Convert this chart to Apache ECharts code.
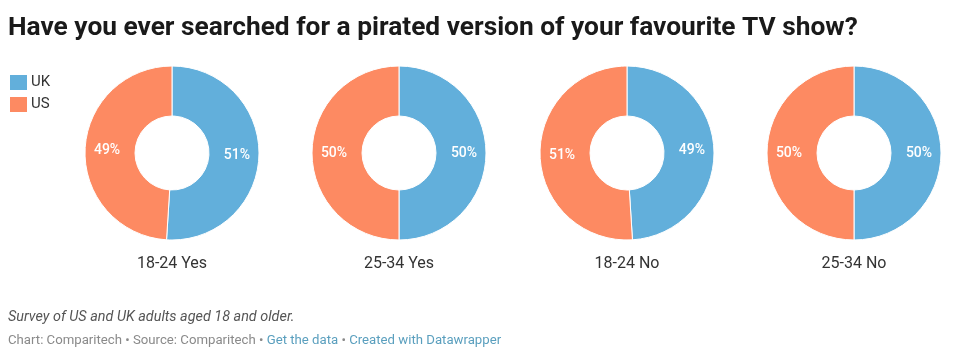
<!DOCTYPE html>
<html><head><meta charset="utf-8">
<script src="https://cdn.jsdelivr.net/npm/echarts@6/dist/echarts.min.js"></script>
<style>html,body{margin:0;padding:0;background:#fff}#c{width:957px;height:359px}</style>
</head><body><div id="c"></div>
<script>
const categories = ["18-24 Yes", "25-34 Yes", "18-24 No", "25-34 No"];
const seriesNames = ["UK", "US"];
const ukValues = [51, 50, 49, 50];
const usValues = [49, 50, 51, 50];
const colors = ["#62afdb", "#fd8a62"];
const centersX = [172, 399, 627, 854];

const chart = echarts.init(document.getElementById('c'));
const series = categories.map((cat, i) => ({
  type: 'pie',
  name: cat,
  center: [centersX[i], 153],
  radius: [37, 87],
  startAngle: 90,
  clockwise: true,
  animation: false,
  itemStyle: { borderColor: '#ffffff', borderWidth: 1 },
  label: {
    show: true, position: 'inside', formatter: '{c}%',
    color: '#ffffff', fontSize: 14, fontWeight: 500, fontFamily: 'Roboto'
  },
  labelLine: { show: false },
  emphasis: { disabled: true },
  data: [
    { name: seriesNames[0], value: ukValues[i], itemStyle: { color: colors[0] } },
    { name: seriesNames[1], value: usValues[i], itemStyle: { color: colors[1] } }
  ]
}));
const titles = [
  { text: 'Have you ever searched for a pirated version of your favourite TV show?', left: 8, top: 15, padding: 0,
    textStyle: { fontFamily: 'Roboto', fontWeight: 'bold', fontSize: 26.3, color: '#1a1a1a' } }
].concat(categories.map((cat, i) => ({
  text: cat, left: centersX[i], top: 256, textAlign: 'center', padding: 0,
  textStyle: { fontFamily: 'Roboto', fontWeight: 'normal', fontSize: 16, color: '#333333' }
}))).concat([
  { text: 'Survey of US and UK adults aged 18 and older.', left: 8, top: 310, padding: 0,
    textStyle: { fontFamily: 'Roboto', fontStyle: 'italic', fontWeight: 'normal', fontSize: 14.4, color: '#555555' } },
  { text: '{g|Chart: Comparitech • Source: Comparitech • }{b|Get the data}{g| • }{b|Created with Datawrapper}', left: 8, top: 334, padding: 0,
    textStyle: { fontFamily: 'Roboto', fontWeight: 'normal', fontSize: 13.2,
      rich: { g: { color: '#8a8a8a', fontSize: 13.2, fontFamily: 'Roboto' }, b: { color: '#5a9fbe', fontSize: 13.2, fontFamily: 'Roboto' } } } }
]);
chart.setOption({
  backgroundColor: '#ffffff',
  animation: false,
  title: titles,
  legend: {
    orient: 'vertical', left: 8, top: 73, padding: 0, itemWidth: 19, itemHeight: 17, itemGap: 3,
    icon: 'rect', data: seriesNames, selectedMode: false,
    textStyle: { fontFamily: 'Roboto', fontSize: 15, color: '#333333', padding: [0, 0, 0, -2] }
  },
  series: series
});
</script></body></html>
